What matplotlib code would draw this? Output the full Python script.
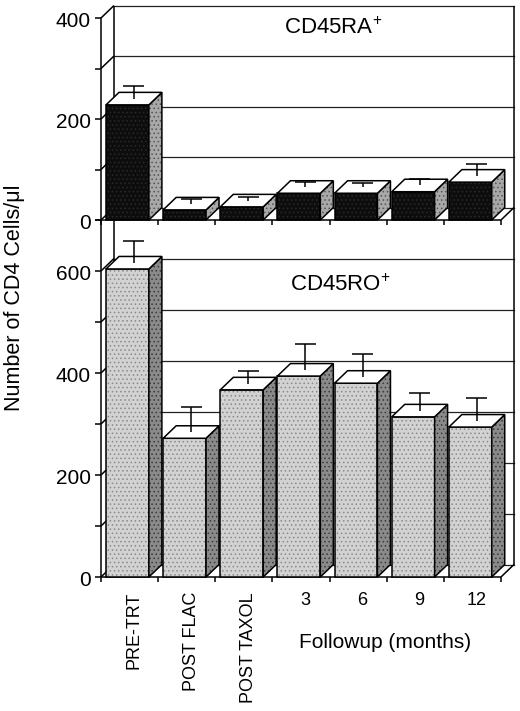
import matplotlib
matplotlib.use("Agg")
import matplotlib.pyplot as plt
from matplotlib.patches import Polygon
from matplotlib.transforms import offset_copy

plt.rcParams["font.family"] = ["Liberation Sans", "DejaVu Sans"]
plt.rcParams["hatch.linewidth"] = 0.6

CATEGORIES = ["PRE-TRT", "POST FLAC", "POST TAXOL", "3", "6", "9", "12"]
RA_MEAN = [228, 20, 26, 53, 53, 56, 75]
RA_ERR = [25, 10, 8, 10, 8, 13, 24]
RO_MEAN = [604, 272, 367, 394, 380, 314, 294]
RO_ERR = [42, 50, 25, 50, 45, 35, 45]

W, H = 520, 711
DEPTH_X_PX = 13.0
DEPTH_Y_PX = 12.5
BAR_LEFT = 0.088
BAR_W = 0.75
LW = 1.1


def px_scale(ax, ymax):
    bb = ax.get_position()
    sx = bb.width * W / len(CATEGORIES)
    sy = bb.height * H / ymax
    return sx, sy


def face(ax, pts, fc, dots=None):
    # flat fill, optional dotted texture, then black outline
    ax.add_patch(Polygon(pts, closed=True, fc=fc, ec="none", lw=0, zorder=3, clip_on=False))
    if dots:
        ax.add_patch(Polygon(pts, closed=True, fc="none", ec=dots, lw=0, hatch="....",
                             zorder=3, clip_on=False))
    ax.add_patch(Polygon(pts, closed=True, fc="none", ec="black", lw=LW, zorder=3,
                         clip_on=False))


def draw_panel(ax, means, errs, ymax, labelled, front, side, wall_top_dy=True):
    n = len(CATEGORIES)
    ax.set_xlim(0, n)
    ax.set_ylim(0, ymax)
    ax.axis("off")
    sx, sy = px_scale(ax, ymax)
    dx, dy = DEPTH_X_PX / sx, DEPTH_Y_PX / sy
    kw = dict(color="black", lw=LW, clip_on=False, solid_capstyle="butt")

    ticks = list(range(0, ymax + 1, 100))
    # back wall
    for v in ticks:
        if not wall_top_dy and v == ymax:
            continue
        ax.plot([dx, n + dx], [v + dy, v + dy], color="#222222", lw=0.9, clip_on=False, zorder=1)
    wall_top = ymax + dy if wall_top_dy else ymax
    ax.plot([dx, dx], [dy, wall_top], zorder=1, **kw)
    ax.plot([n + dx, n + dx], [dy, ymax + dy], zorder=1, **kw)

    # left wall: front axis, tick diagonals and tick marks
    ax.plot([0, 0], [0, ymax], zorder=2, **kw)
    for v in ticks:
        if wall_top_dy or v < ymax:
            ax.plot([0, dx], [v, v + dy], zorder=2, **kw)
        ax.plot([0, -6 / sx], [v, v], zorder=2, **kw)
        if v in labelled:
            tr = offset_copy(ax.transData, fig=ax.figure, x=-10, y=-3, units="dots")
            ax.text(0, v, str(v), transform=tr, ha="right", va="center", fontsize=15)

    # floor
    ax.plot([0, n], [0, 0], zorder=2, **kw)
    ax.plot([n, n + dx], [0, dy], zorder=2, **kw)
    for i in range(n + 1):
        ax.plot([i, i], [0, -5 / sy], zorder=2, **kw)

    # bars
    for i, (m, e) in enumerate(zip(means, errs)):
        x0 = i + BAR_LEFT
        x1 = x0 + BAR_W
        face(ax, [(x0, 0), (x1, 0), (x1, m), (x0, m)], *front)
        face(ax, [(x1, 0), (x1 + dx, dy), (x1 + dx, m + dy), (x1, m)], *side)
        face(ax, [(x0, m), (x1, m), (x1 + dx, m + dy), (x0 + dx, m + dy)], "white")
        xc = x0 + BAR_W / 2 + dx / 2
        cap = 10.5 / sx
        ax.plot([xc, xc], [m + dy / 2, m + dy / 2 + e], zorder=4, **kw)
        ax.plot([xc - cap, xc + cap], [m + dy / 2 + e] * 2, zorder=4, **kw)
    return dx, dy


fig = plt.figure(figsize=(W / 100, H / 100), dpi=100)
fig.patch.set_facecolor("white")

left = 101 / W
width = 400 / W
ax_top = fig.add_axes([left, 1 - 220 / H, width, 202 / H])
ax_bot = fig.add_axes([left, 1 - 577 / H, width, 357 / H])
ax_top.patch.set_alpha(0)
ax_bot.patch.set_alpha(0)

draw_panel(ax_top, RA_MEAN, RA_ERR, 400, [0, 200, 400],
           ("#0d0d0d", "#2a2a2a"), ("#a8a8a8", "#555555"))
dx, dy = draw_panel(ax_bot, RO_MEAN, RO_ERR, 700, [0, 200, 400, 600],
                    ("#d2d2d2", "#8a8a8a"), ("#8a8a8a", "#3a3a3a"), wall_top_dy=False)

# category labels below the lower panel
for i, lab in enumerate(CATEGORIES):
    xc = i + BAR_LEFT + BAR_W / 2 + dx / 2
    tr = offset_copy(ax_bot.transData, fig=fig, x=0, y=-15, units="dots")
    if i < 3:
        ax_bot.text(xc, 0, lab, transform=tr, rotation=90, ha="center", va="top", fontsize=13)
    else:
        ax_bot.text(xc, 0, lab, transform=tr, ha="center", va="top", fontsize=13)

fig.text(385 / W, 1 - 642 / H, "Followup (months)", ha="center", va="center", fontsize=15)
fig.text(15 / W, 1 - 298 / H, "Number of CD4 Cells/\u03bcl", rotation=90,
         ha="center", va="center", fontsize=15.5)
fig.text(284 / W, 1 - 28 / H, r"CD45RA$^{\mathregular{+}}$", ha="left", va="center", fontsize=16)
fig.text(290 / W, 1 - 285 / H, r"CD45RO$^{\mathregular{+}}$", ha="left", va="center", fontsize=16)

fig.savefig("out.png", dpi=100, facecolor="white")
